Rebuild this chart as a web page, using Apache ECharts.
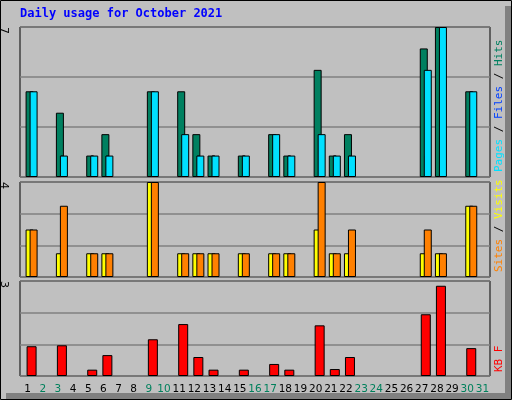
<!DOCTYPE html>
<html><head><meta charset="utf-8">
<script src="https://cdn.jsdelivr.net/npm/echarts@6/dist/echarts.min.js"></script>
<style>html,body{margin:0;padding:0;background:#fff}#c{width:512px;height:400px}</style>
</head><body><div id="c"></div>
<script>
const days = Array.from({length:31},(_,i)=>String(i+1));
const weekend = ['2','3','9','10','16','17','23','24','30','31'];
const hits  = [4,0,3,0,1,2,0,0,4,0,4,2,1,0,1,0,2,1,0,5,1,2,0,0,0,0,6,7,0,4,0];
const files = [4,0,1,0,1,1,0,0,4,0,2,1,1,0,1,0,2,1,0,2,1,1,0,0,0,0,5,7,0,4,0];
const pages = [4,0,1,0,1,1,0,0,2,0,0,1,1,0,1,0,2,1,0,2,1,1,0,0,0,0,1,0,0,4,0];
const sites = [2,0,1,0,1,1,0,0,4,0,1,1,1,0,1,0,1,1,0,2,1,1,0,0,0,0,1,1,0,3,0];
const visits= [2,0,3,0,1,1,0,0,4,0,1,1,1,0,1,0,1,1,0,4,1,2,0,0,0,0,2,1,0,3,0];
const kbytes= [0.94,0,0.97,0,0.2,0.66,0,0,1.16,0,1.64,0.6,0.2,0,0.2,0,0.38,0.2,0,1.6,0.22,0.6,0,0,0,0,1.95,2.85,0,0.88,0];
const yMax = [7,4,3];

const panels = [{top:27,h:150},{top:182,h:95},{top:281,h:95}];
const grids=[], xAxis=[], yAxis=[], series=[];
function addGrid(left,p,max,showLabels,showSplit,frame){
  const i=grids.length;
  grids.push({left:left,top:p.top,width:470,height:p.h,show:frame,borderColor:'#000',borderWidth:1,backgroundColor:'transparent'});
  xAxis.push({type:'category',data:days,gridIndex:i,axisLine:{show:false},axisTick:{show:false},
    axisLabel:{show:showLabels,interval:0,margin:8,fontFamily:'DejaVu Sans',fontSize:10.5,
      formatter:v=>weekend.includes(v)?'{w|'+v+'}':'{d|'+v+'}',
      rich:{w:{color:'#00805c',fontSize:10.5,fontFamily:'DejaVu Sans'},d:{color:'#000',fontSize:10.5,fontFamily:'DejaVu Sans'}}}});
  yAxis.push({type:'value',gridIndex:i,min:0,max:max,interval:max/3,axisLabel:{show:false},axisLine:{show:false},axisTick:{show:false},
    splitLine:{show:showSplit,lineStyle:{color:'#808080',width:1.5}}});
  return i;
}
function bar(gi,data,color,w,z){
  series.push({type:'bar',xAxisIndex:gi,yAxisIndex:gi,data:data.map(v=>v===0?'-':v),barWidth:w,z:z,silent:true,
    itemStyle:{color:color,borderColor:'#000',borderWidth:1}});
}
panels.forEach((p,k)=>addGrid(20,p,yMax[k],k===2,true,true));
bar(addGrid(22,panels[0],7,false,false,false),hits,'#008060',8,2);
bar(addGrid(24,panels[0],7,false,false,false),pages,'#0040ff',3,3);
bar(addGrid(26,panels[0],7,false,false,false),files,'#00e0ff',8,4);
bar(addGrid(22,panels[1],4,false,false,false),sites,'#ffff00',8,2);
bar(addGrid(26,panels[1],4,false,false,false),visits,'#ff8000',8,3);
bar(addGrid(24,panels[2],3,false,false,false),kbytes,'#ff0000',10,2);
[0,1,2].forEach(i=>series.push({type:'bar',xAxisIndex:i,yAxisIndex:i,data:[]}));

const chart=echarts.init(document.getElementById('c'));
chart.setOption({
  animation:false,
  grid:grids,xAxis:xAxis,yAxis:yAxis,series:series,
  graphic:[
    {type:'rect',shape:{x:0.5,y:0.5,width:511,height:399},style:{fill:'#c0c0c0',stroke:'#000',lineWidth:1},z:-10},
    {type:'rect',shape:{x:505,y:6,width:6,height:393},style:{fill:'#808080'},z:-9},
    {type:'rect',shape:{x:6,y:393,width:505,height:6},style:{fill:'#808080'},z:-9},
    {type:'text',left:20,top:8,style:{text:'Daily usage for October 2021',fill:'#0000ff',font:'bold 12px "DejaVu Sans Mono"'}},
    {type:'text',x:9,y:27,rotation:-Math.PI/2,style:{text:'7',fill:'#000',font:'11px "DejaVu Sans"',align:'left'}},
    {type:'text',x:9,y:182,rotation:-Math.PI/2,style:{text:'4',fill:'#000',font:'11px "DejaVu Sans"',align:'left'}},
    {type:'text',x:9,y:281,rotation:-Math.PI/2,style:{text:'3',fill:'#000',font:'11px "DejaVu Sans"',align:'left'}},
    {type:'text',x:494,y:172,rotation:Math.PI/2,style:{text:'{p|Pages}{s| / }{f|Files}{s| / }{h|Hits}',align:'left',
      rich:{p:{fill:'#00e0ff',font:'11px "DejaVu Sans Mono"'},f:{fill:'#0040ff',font:'11px "DejaVu Sans Mono"'},h:{fill:'#008060',font:'11px "DejaVu Sans Mono"'},s:{fill:'#000',font:'11px "DejaVu Sans Mono"'}}}},
    {type:'text',x:494,y:272,rotation:Math.PI/2,style:{text:'{v|Sites}{s| / }{t|Visits}',
      rich:{v:{fill:'#ff8000',font:'11px "DejaVu Sans Mono"'},t:{fill:'#ffff00',font:'11px "DejaVu Sans Mono"'},s:{fill:'#000',font:'11px "DejaVu Sans Mono"'}}}},
    {type:'text',x:494,y:372,rotation:Math.PI/2,style:{text:'KB F',fill:'#ff0000',font:'11px "DejaVu Sans Mono"'}}
  ]
});
</script></body></html>
